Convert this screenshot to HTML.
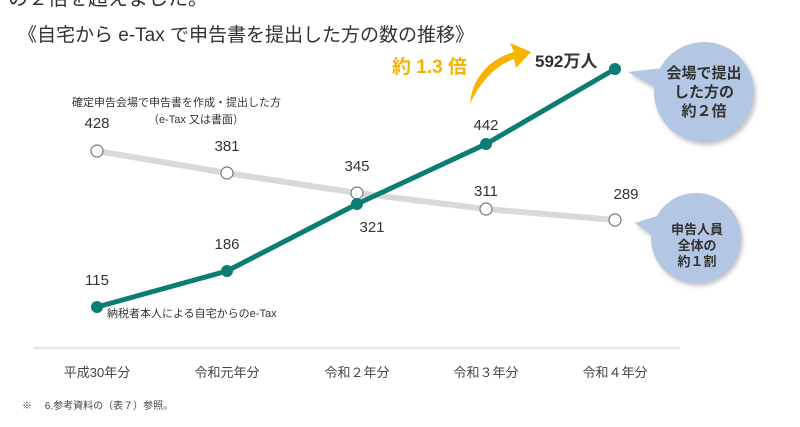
<!DOCTYPE html>
<html><head><meta charset="utf-8"><style>
body{margin:0;background:#fff;}
svg{display:block;}
text{font-family:"Liberation Sans","Noto Sans CJK JP",sans-serif;}
</style></head><body>
<svg width="800" height="427" viewBox="0 0 800 427" xmlns="http://www.w3.org/2000/svg">
<text x="8" y="5" font-size="20" fill="#333">の２倍を超えました。</text>
<text x="18" y="41" font-size="19" fill="#333">《自宅から e-Tax で申告書を提出した方の数の推移》</text>
<line x1="33" y1="348" x2="680" y2="348" stroke="#ddd" stroke-width="1.5"/>
<g font-size="13" fill="#444" text-anchor="middle">
<text x="97" y="377">平成30年分</text><text x="227" y="377">令和元年分</text><text x="357" y="377">令和２年分</text><text x="486" y="377">令和３年分</text><text x="615" y="377">令和４年分</text>
</g>
<text x="22" y="409" font-size="10" fill="#444">※　 6.参考資料の（表７）参照。</text>
<polyline points="97,151 227,173 357,193 486,209 615,220" fill="none" stroke="#d9d9d9" stroke-width="6"/>
<g fill="#fff" stroke="#777" stroke-width="1.2">
<circle cx="97" cy="151" r="6"/><circle cx="227" cy="173" r="6"/><circle cx="357" cy="193" r="6"/><circle cx="486" cy="209" r="6"/><circle cx="615" cy="220" r="6"/>
</g>
<polyline points="97,307 227,271 357,204 486,144 615,69" fill="none" stroke="#0b7d72" stroke-width="5"/>
<g fill="#0b7d72">
<circle cx="97" cy="307" r="6"/><circle cx="227" cy="271" r="6"/><circle cx="357" cy="204" r="6"/><circle cx="486" cy="144" r="6"/><circle cx="615" cy="69" r="6"/>
</g>
<g font-size="15" fill="#333" text-anchor="middle">
<text x="97" y="128">428</text><text x="227" y="151">381</text><text x="357" y="171">345</text><text x="486" y="196">311</text><text x="626" y="199">289</text>
<text x="97" y="285">115</text><text x="227" y="249">186</text><text x="372" y="232">321</text><text x="486" y="130">442</text>
</g>
<text x="72" y="106" font-size="11" fill="#333">確定申告会場で申告書を作成・提出した方</text>
<text x="148" y="123" font-size="11" fill="#333">（e-Tax 又は書面）</text>
<text x="107" y="317" font-size="11" fill="#333">納税者本人による自宅からのe-Tax</text>
<text x="392" y="73" font-size="19" font-weight="bold" fill="#f5b400">約 1.3 倍</text>
<path d="M470,104 C472,76 492,58 514,52 L510,43 L531,52 L516,68 L514,59 C496,65 480,82 470,104 Z" fill="#f5b400"/>
<text x="535" y="67" font-size="17" font-weight="bold" fill="#333">592万人</text>
<defs><filter id="s" x="-20%" y="-20%" width="150%" height="150%"><feDropShadow dx="2" dy="3" stdDeviation="2" flood-color="#888" flood-opacity="0.5"/></filter></defs>
<g fill="#b3c6e4" filter="url(#s)">
<path d="M628,72 L662,68 L660,90 Z"/><circle cx="704" cy="92" r="50"/>
<path d="M635,223 L660,215 L658,240 Z"/><circle cx="696" cy="238" r="45"/>
</g>
<g font-size="15" font-weight="bold" fill="#333" text-anchor="middle">
<text x="704" y="78">会場で提出</text><text x="704" y="97">した方の</text><text x="704" y="116">約２倍</text>
</g>
<g font-size="13" font-weight="bold" fill="#333" text-anchor="middle">
<text x="697" y="234">申告人員</text><text x="697" y="250">全体の</text><text x="697" y="266">約１割</text>
</g>
</svg>
</body></html>
